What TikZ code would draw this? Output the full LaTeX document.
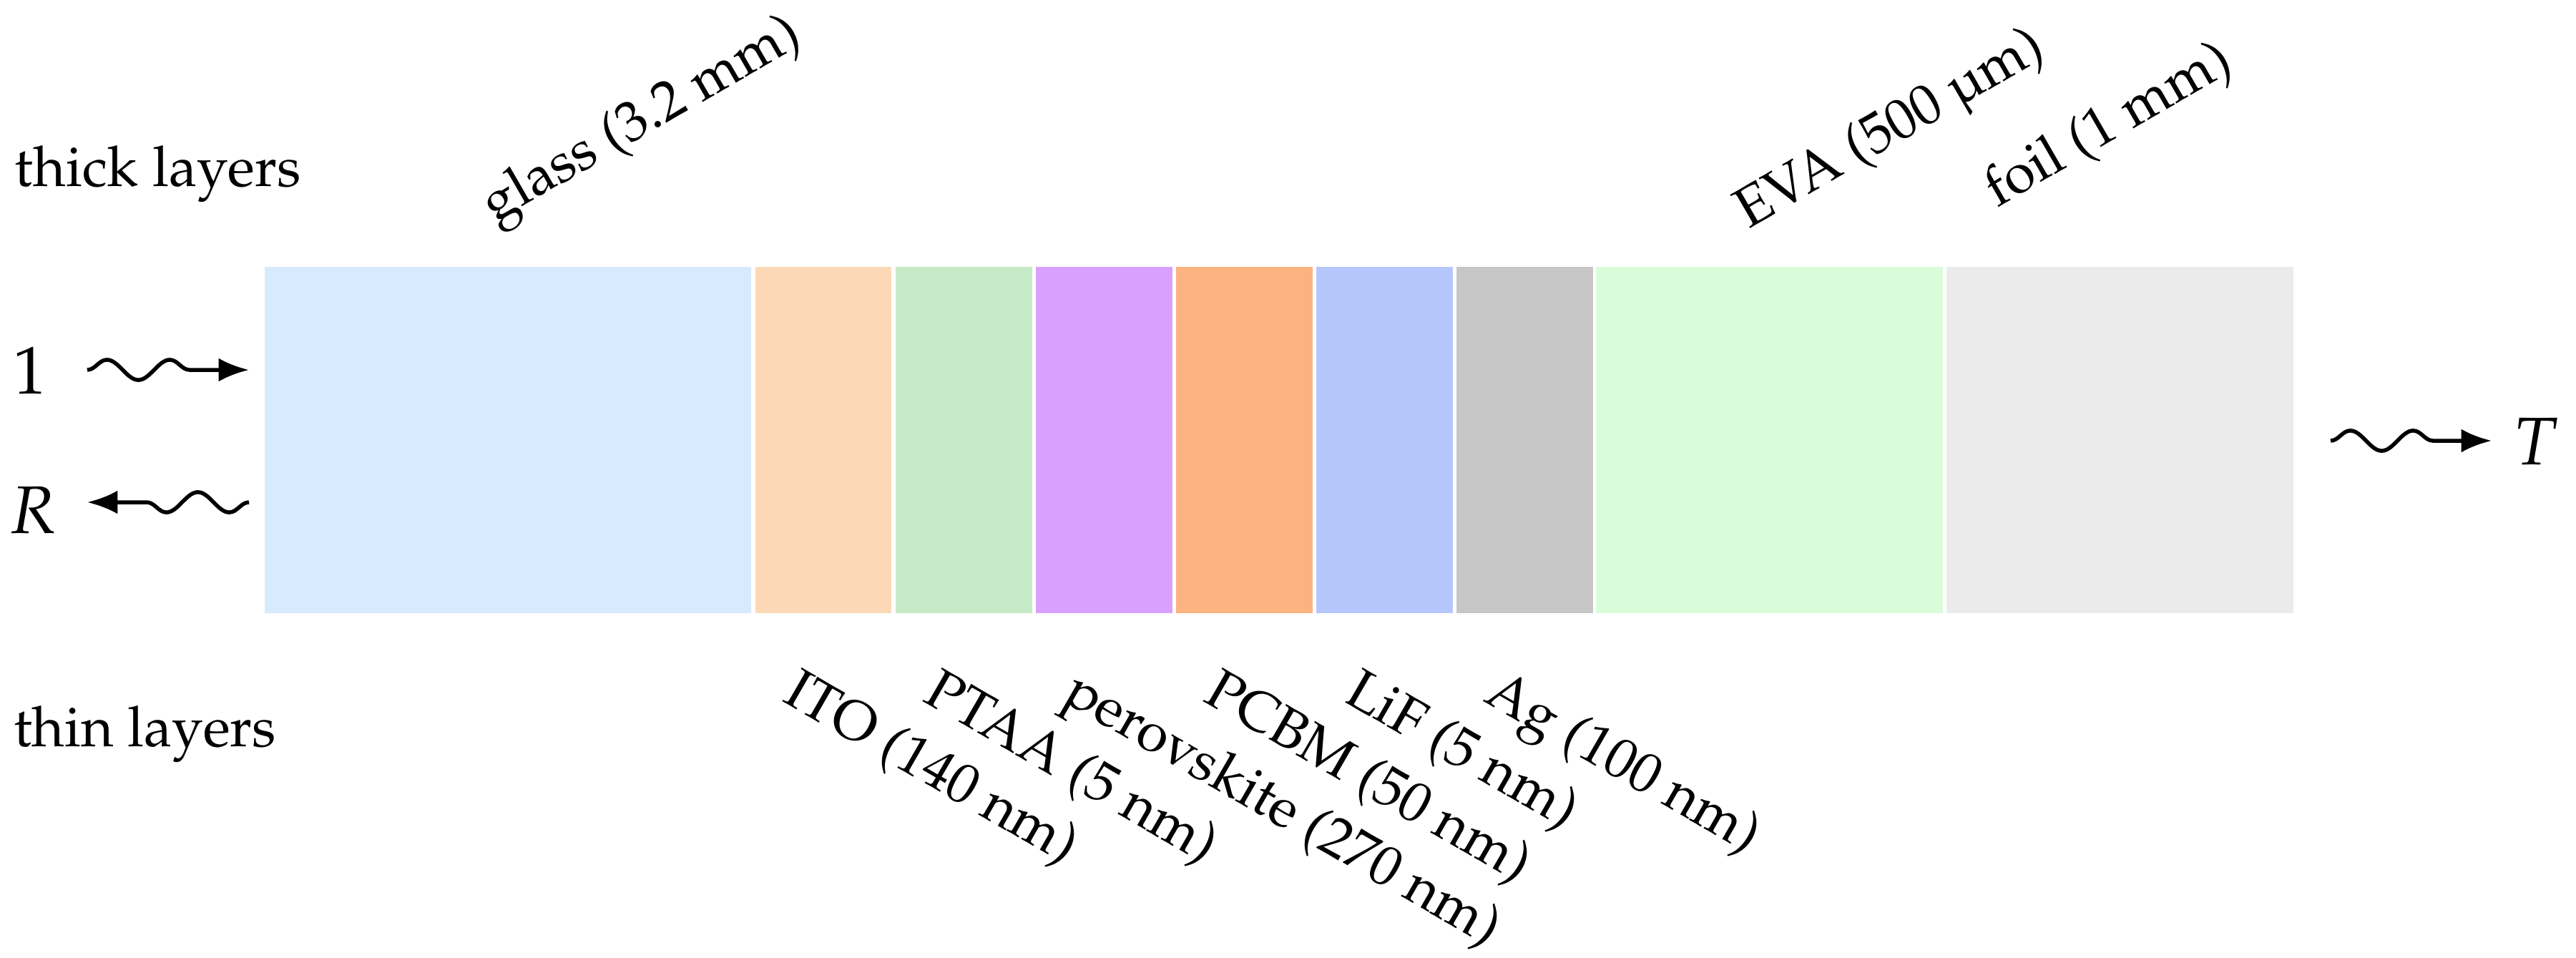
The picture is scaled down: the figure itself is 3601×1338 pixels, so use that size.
\documentclass[tikz,border=0pt]{standalone}
\usepackage[T1]{fontenc}
\usepackage{mathpazo}
\usetikzlibrary{decorations.pathmorphing,arrows.meta,fit}
\definecolor{cglass}{RGB}{216,234,253}
\definecolor{cito}{RGB}{253,216,182}
\definecolor{cptaa}{RGB}{199,234,198}
\definecolor{cperov}{RGB}{217,161,253}
\definecolor{cpcbm}{RGB}{253,178,130}
\definecolor{clif}{RGB}{181,198,253}
\definecolor{cag}{RGB}{198,198,198}
\definecolor{ceva}{RGB}{217,253,217}
\definecolor{cfoil}{RGB}{235,235,235}
\begin{document}
\begin{tikzpicture}[x=0.12739pt, y=-0.12739pt,
  layer/.style={rectangle, inner sep=0pt, outer sep=0pt, draw=none},
  lbl/.style={inner sep=0pt, outer sep=0pt, anchor=base west},
  wavy/.style={line width=0.7pt, decorate,
    decoration={snake, amplitude=1.8pt, segment length=11.2pt, post length=5pt},
    -{Latex[length=5.4pt,width=4.2pt]}}]
\useasboundingbox (0,0) rectangle (3601,1338);
% layers
\node[layer, fill=cglass, fit={(370,373) (1050,857)}] (glass) {};
\node[layer, fill=cito,   fit={(1056,373) (1246,857)}] (ito) {};
\node[layer, fill=cptaa,  fit={(1252,373) (1443,857)}] (ptaa) {};
\node[layer, fill=cperov, fit={(1448,373) (1639,857)}] (perov) {};
\node[layer, fill=cpcbm,  fit={(1644,373) (1835,857)}] (pcbm) {};
\node[layer, fill=clif,   fit={(1840,373) (2031,857)}] (lif) {};
\node[layer, fill=cag,    fit={(2036,373) (2227,857)}] (ag) {};
\node[layer, fill=ceva,   fit={(2231,373) (2716,857)}] (eva) {};
\node[layer, fill=cfoil,  fit={(2721,373) (3206,857)}] (foil) {};
% side labels
\node[lbl] (thick) at (21,260) {thick layers};
\node[lbl] (thin) at (19,1043) {thin layers};
\node[lbl, font=\large] (one) at (18,550) {$1$};
\node[lbl, font=\large] (refl) at (12,745) {$R$};
\node[lbl, font=\large] (trans) at (3513,649) {$T$};
% thick layer labels
\node[lbl, rotate=30] (lglass) at (691,311) {glass (3.2 mm)};
\node[lbl, rotate=30] (leva) at (2444,320) {EVA (500 \textmu m)};
\node[lbl, rotate=30] (lfoil) at (2792,290) {foil (1 mm)};
% thin layer labels
\node[lbl, rotate=-30] (lito) at (1092,979) {ITO (140 nm)};
\node[lbl, rotate=-30] (lptaa) at (1288,979) {PTAA (5 nm)};
\node[lbl, rotate=-30] (lperov) at (1484,979) {perovskite (270 nm)};
\node[lbl, rotate=-30] (lpcbm) at (1680,979) {PCBM (50 nm)};
\node[lbl, rotate=-30] (llif) at (1876,979) {LiF (5 nm)};
\node[lbl, rotate=-30] (lag) at (2072,979) {Ag (100 nm)};
% arrows
\coordinate (inS) at (122,517);
\coordinate (inE) at (348,517);
\coordinate (rS) at (348,702);
\coordinate (rE) at (122,702);
\coordinate (tS) at (3258,616);
\coordinate (tE) at (3483,616);
\draw[wavy] (inS) -- (inE);
\draw[wavy] (rS) -- (rE);
\draw[wavy] (tS) -- (tE);
\end{tikzpicture}
\end{document}
